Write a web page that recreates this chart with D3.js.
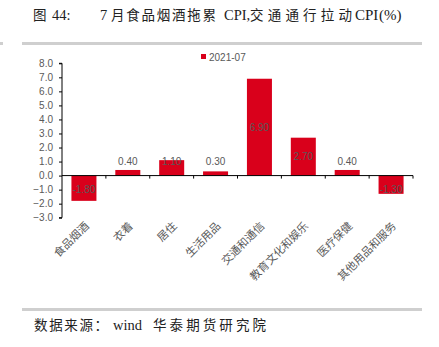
<!DOCTYPE html>
<html><head><meta charset="utf-8">
<script src="https://cdn.jsdelivr.net/npm/d3@7"></script>
<style>body{margin:0;background:#fff}svg{display:block}</style>
</head><body>
<script>
const categories = ["食品烟酒","衣着","居住","生活用品","交通和通信","教育文化和娱乐","医疗保健","其他用品和服务"];
const values = [-1.80,0.40,1.10,0.30,6.90,2.70,0.40,-1.30];
const seriesName = "2021-07";
const yTicks = [8,7,6,5,4,3,2,1,0,-1,-2,-3];

const W=439,H=347;
const svg=d3.select("body").append("svg").attr("width",W).attr("height",H);
const serif="'Liberation Serif','DejaVu Serif','Noto Sans CJK SC',serif";
const sans="'Liberation Sans','Noto Sans CJK SC',sans-serif";

function piece(txt,x0,x1,yb,fs){
  const t=svg.append("text").attr("x",x0).attr("y",yb).attr("font-family",serif)
    .attr("font-size",fs).attr("fill","#222").text(txt);
  if(x1) t.attr("textLength",x1-x0).attr("lengthAdjust","spacing");
}
// title
piece("图",33,null,20,13.5);
piece("44:",52,null,20,14.5);
piece("7",100,null,20,14.5);
piece("月食品烟酒拖累",111,216,20,13.5);
piece("CPI,",224,null,20,14.5);
piece("交通通行拉动",250,352,20,13.5);
piece("CPI",355,null,20,15);
piece("(%)",379,null,20,15);
// rules
svg.append("rect").attr("x",22).attr("y",42).attr("width",400).attr("height",3).attr("fill","#cfcfcf");
svg.append("rect").attr("x",0).attr("y",42).attr("width",3).attr("height",3).attr("fill","#cfcfcf");
svg.append("rect").attr("x",22).attr("y",308).attr("width",400).attr("height",3).attr("fill","#cfcfcf");
// source
piece("数据来源：",34,108,330,13.5);
piece("wind",113,null,330,14.5);
piece("华泰期货研究院",153,266,330,13.5);

const x=d3.scaleBand().domain(categories).range([62,413]).paddingInner(0.43).paddingOuter(0.215);
const y=d3.scaleLinear().domain([-3,8]).range([217.7,63.3]);

// y axis
const ya=svg.append("g").attr("transform","translate(62,0)")
  .call(d3.axisLeft(y).tickValues(yTicks).tickFormat(d3.format(".1f")).tickSize(3));
ya.select(".domain").attr("stroke","#000").attr("d","M-3,"+y(8)+"H0V"+y(-3)+"H-3");
ya.selectAll(".tick line").attr("stroke","#000");
ya.selectAll("text").attr("font-family",sans).attr("font-size",10).attr("fill","#595959").attr("x",-9);

// bars
svg.append("g").selectAll("rect").data(values).join("rect")
  .attr("x",(d,i)=>x(categories[i]))
  .attr("width",x.bandwidth())
  .attr("y",d=>y(Math.max(0,d)))
  .attr("height",d=>Math.abs(y(d)-y(0)))
  .attr("fill","#d9001b");

// x axis at zero
const xb=d3.scaleLinear().domain([0,categories.length]).range([62,413]);
const xa=svg.append("g").attr("transform","translate(0,"+y(0)+")");
xa.append("line").attr("x1",62).attr("x2",413).attr("stroke","#000");
xa.selectAll("line.t").data(d3.range(1,categories.length+1)).join("line").attr("class","t")
  .attr("x1",d=>xb(d)).attr("x2",d=>xb(d)).attr("y1",0).attr("y2",3).attr("stroke","#000");

// data labels
svg.append("g").selectAll("text").data(values).join("text")
  .attr("x",(d,i)=>x(categories[i])+x.bandwidth()/2)
  .attr("y",d=>y(Math.sign(d)*Math.max(Math.abs(d)/2,1.0)))
  .attr("dy","0.35em").attr("text-anchor","middle")
  .attr("font-family",sans).attr("font-size",10).attr("fill","#595959")
  .text(d=>d.toFixed(2));

// category labels
svg.append("g").selectAll("text").data(categories).join("text")
  .attr("transform",(d)=>"translate("+(x(d)+x.bandwidth()/2+3)+",224) rotate(-45)")
  .attr("text-anchor","end").attr("dy","0.35em")
  .attr("font-family",serif).attr("font-size",11).attr("fill","#595959")
  .text(d=>d);

// legend
svg.append("rect").attr("x",201).attr("y",54).attr("width",5).attr("height",5).attr("fill","#d9001b");
svg.append("text").attr("x",209).attr("y",57).attr("dy","0.35em").attr("font-family",sans).attr("font-size",10).attr("fill","#595959").text(seriesName);
</script>
</body></html>
